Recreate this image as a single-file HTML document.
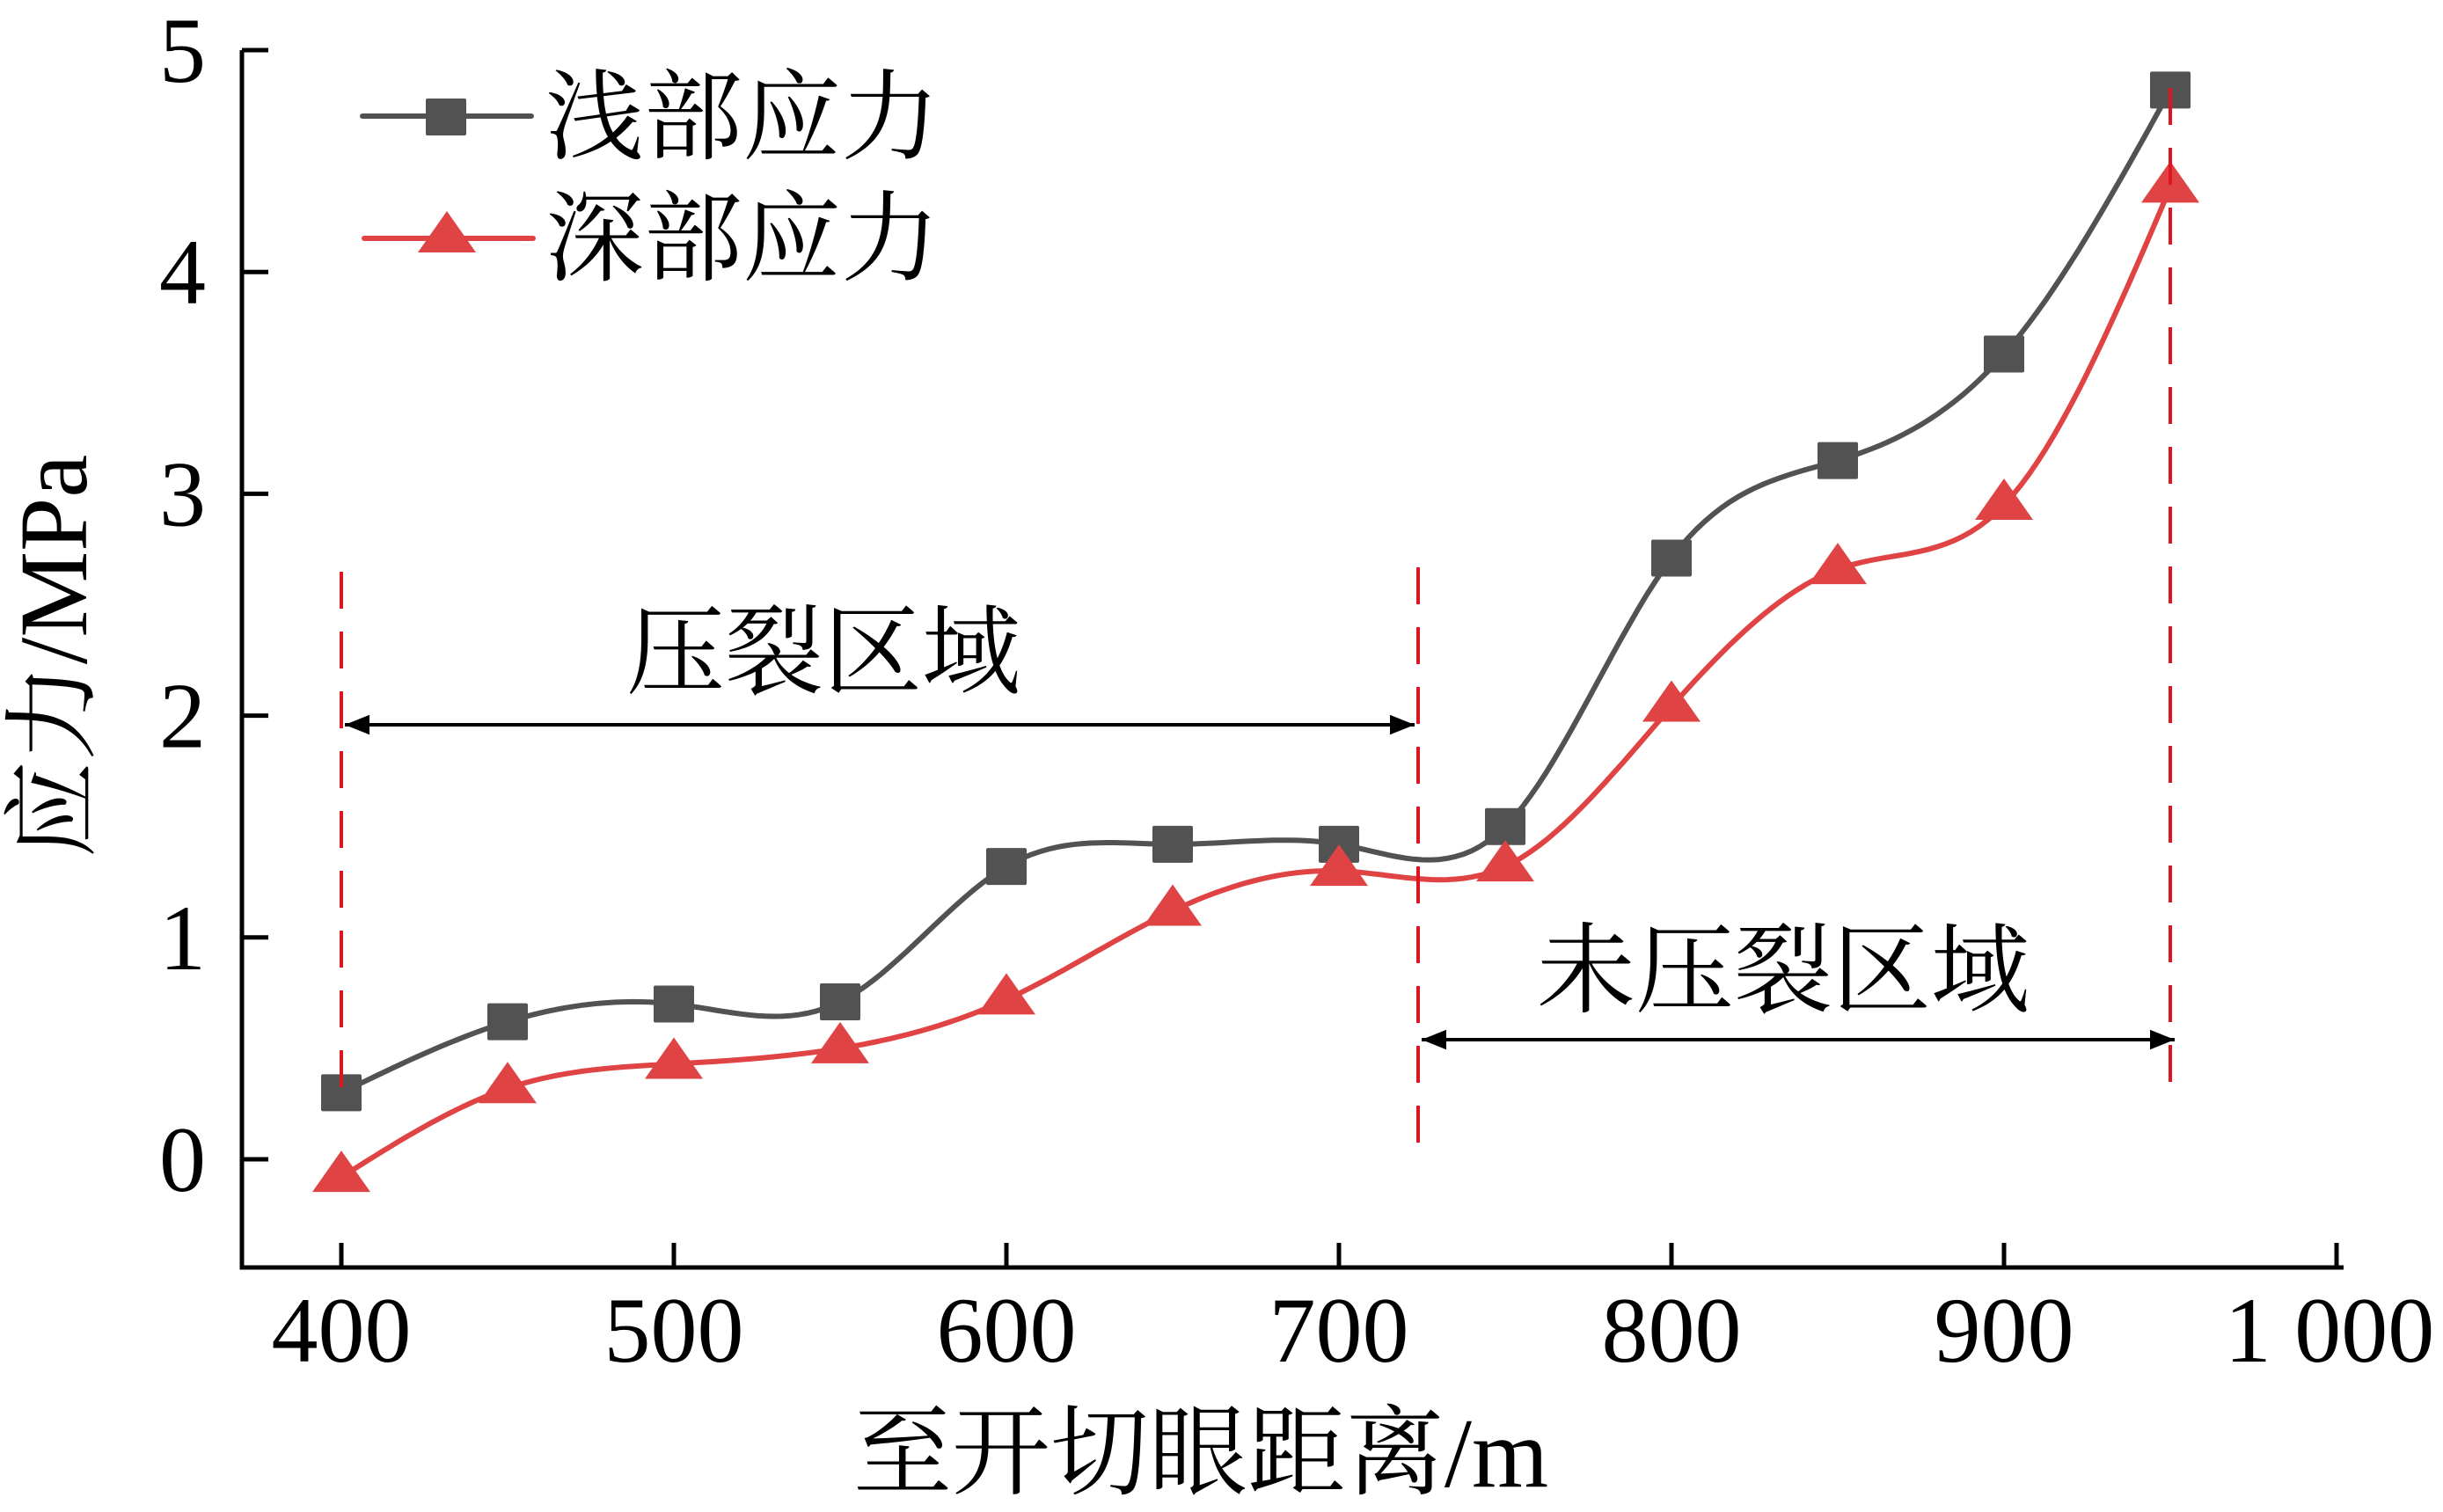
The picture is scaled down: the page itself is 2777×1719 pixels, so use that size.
<!DOCTYPE html>
<html><head><meta charset="utf-8"><style>
html,body{margin:0;padding:0;background:#fff;}
svg{display:block;}
text{font-family:"Liberation Serif","Noto Serif CJK SC","Noto Sans CJK SC",serif;fill:#000;}
</style></head><body>
<svg id="chart" width="2777" height="1719" viewBox="0 0 2777 1719" xmlns="http://www.w3.org/2000/svg">
<defs>
<marker id="ah" viewBox="0 0 10 10" refX="10" refY="5" markerWidth="7" markerHeight="7" orient="auto-start-reverse" markerUnits="strokeWidth"><path d="M0,1 L10,5 L0,9 z" fill="#000"/></marker>
</defs>
<g id="axes"></g>
<g id="series"></g>
<g id="annot"></g>
</svg>
<script>
const xValues=[400,450,500,550,600,650,700,750,800,850,900,950];
const shallowStress=[0.3,0.62,0.7,0.71,1.32,1.42,1.42,1.5,2.71,3.15,3.63,4.82];
const deepStress=[-0.08,0.32,0.43,0.5,0.72,1.12,1.3,1.32,2.04,2.66,2.95,4.38];
const xTicks=[400,500,600,700,800,900,1000];
const xTickLabels=["400","500","600","700","800","900","1 000"];
const yTicks=[0,1,2,3,4,5];
const yTickLabels=["0","1","2","3","4","5"];

const NS="http://www.w3.org/2000/svg";
const X0=275,X1=2664,YB=1441;
function sx(v){return 388+(v-400)*3.78;}
function sy(v){return 1318-v*252.2;}
function mk(tag,attrs,parent,txt){const e=document.createElementNS(NS,tag);for(const k in attrs)e.setAttribute(k,attrs[k]);if(txt!==undefined)e.textContent=txt;parent.appendChild(e);return e;}
const axes=document.getElementById('axes'),series=document.getElementById('series'),annot=document.getElementById('annot');

let e=mk('path',{d:`M${X0},${sy(5)} L${X0},${YB} L${X1},${YB}`,fill:'none',stroke:'#000','stroke-width':5},axes);


yTicks.forEach((t,i)=>{
 let l=mk('line',{x1:X0,x2:X0+30,y1:sy(t),y2:sy(t),stroke:'#000','stroke-width':5},axes);
 
 
 let tx=mk('text',{x:234,y:sy(t)+36,'text-anchor':'end','font-size':106},axes,yTickLabels[i]);
 
 
});
xTicks.forEach((t,i)=>{
 let l=mk('line',{x1:sx(t),x2:sx(t),y1:YB,y2:YB-28,stroke:'#000','stroke-width':5},axes);
 
 
 let tx=mk('text',{x:sx(t)+(i==6?-8:0),y:1548,'text-anchor':'middle','font-size':106},axes,xTickLabels[i]);
 
 
});
let xt=mk('text',{x:1365,y:1690,'text-anchor':'middle','font-size':112},axes,'至开切眼距离/m');


let yt=mk('text',{x:0,y:0,'text-anchor':'middle','font-size':110,transform:'translate(98,746) rotate(-90)'},axes,'应力/MPa');



function spline(xs,ys){
 const n=xs.length,h=[],a=[],l=[1],mu=[0],z=[0],c=new Array(n).fill(0),b=[],d=[];
 for(let i=0;i<n-1;i++)h.push(xs[i+1]-xs[i]);
 for(let i=1;i<n-1;i++)a[i]=3/h[i]*(ys[i+1]-ys[i])-3/h[i-1]*(ys[i]-ys[i-1]);
 for(let i=1;i<n-1;i++){l[i]=2*(xs[i+1]-xs[i-1])-h[i-1]*mu[i-1];mu[i]=h[i]/l[i];z[i]=(a[i]-h[i-1]*z[i-1])/l[i];}
 for(let j=n-2;j>=0;j--){c[j]=(j<n-1?z[j]-mu[j]*c[j+1]:0);b[j]=(ys[j+1]-ys[j])/h[j]-h[j]*(c[j+1]+2*c[j])/3;d[j]=(c[j+1]-c[j])/(3*h[j]);}
 let p='';
 for(let j=0;j<n-1;j++)for(let s=0;s<=20;s++){const t=h[j]*s/20;const v=ys[j]+b[j]*t+c[j]*t*t+d[j]*t*t*t;p+=(p?'L':'M')+sx(xs[j]+t).toFixed(1)+','+sy(v).toFixed(1);}
 return p;
}
const GRAY='#525252',RED='#e04343';
let c1=mk('path',{d:spline(xValues,shallowStress),fill:'none',stroke:GRAY,'stroke-width':6},series);


let c2=mk('path',{d:spline(xValues,deepStress),fill:'none',stroke:RED,'stroke-width':6},series);


xValues.forEach((x,i)=>{
 let r=mk('rect',{x:sx(x)-23,y:sy(shallowStress[i])-21,width:46,height:42,fill:GRAY,rx:2},series);
 
 
 const cx=sx(x),cy=sy(deepStress[i]);
 let t=mk('polygon',{points:`${cx},${cy-30} ${cx+33},${cy+17} ${cx-33},${cy+17}`,fill:RED},series);
 
 
});

[[sx(400),650,1253],[1612,645,1315],[sx(950),100,1253]].forEach(v=>{
 let l=mk('line',{x1:v[0],x2:v[0],y1:v[1],y2:v[2],stroke:'#e0141e','stroke-width':4,'stroke-dasharray':'42,26'},annot);
 
 
});
let a1=mk('line',{x1:392,x2:1608,y1:824,y2:824,stroke:'#000','stroke-width':4,'marker-start':'url(#ah)','marker-end':'url(#ah)'},annot);


let t1=mk('text',{x:936,y:780,'text-anchor':'middle','font-size':112},annot,'压裂区域');


let a2=mk('line',{x1:1616,x2:2472,y1:1182,y2:1182,stroke:'#000','stroke-width':4,'marker-start':'url(#ah)','marker-end':'url(#ah)'},annot);


let t2=mk('text',{x:2027,y:1142,'text-anchor':'middle','font-size':112},annot,'未压裂区域');



const lg=mk('g',{},annot);


let ll1=mk('line',{x1:412,x2:604,y1:132,y2:132,stroke:GRAY,'stroke-width':6,'stroke-linecap':'round'},lg);


let lm1=mk('rect',{x:484,y:112,width:46,height:42,fill:GRAY,rx:2},lg);


let lt1=mk('text',{x:620,y:172,'font-size':112},lg,'浅部应力');


let ll2=mk('line',{x1:414,x2:606,y1:271,y2:271,stroke:RED,'stroke-width':6,'stroke-linecap':'round'},lg);


let lm2=mk('polygon',{points:'508,240 541,287 475,287',fill:RED},lg);


let lt2=mk('text',{x:620,y:310,'font-size':112},lg,'深部应力');


</script>
</body></html>
